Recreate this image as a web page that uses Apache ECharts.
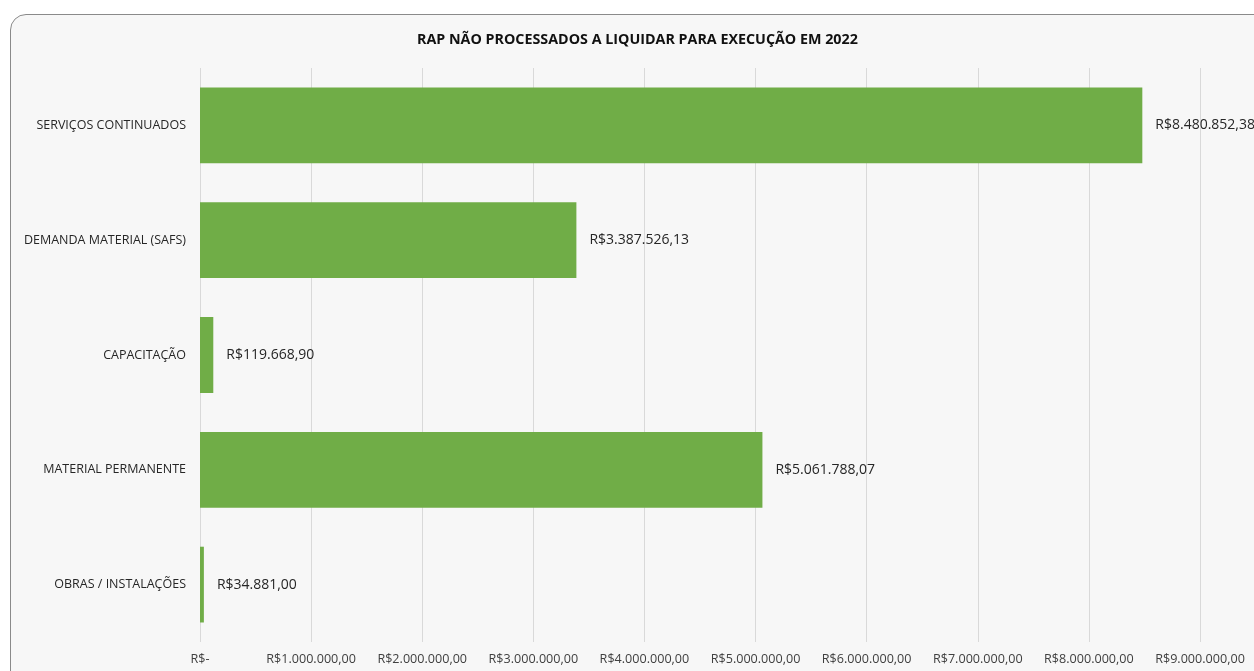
<!DOCTYPE html>
<html><head><meta charset="utf-8">
<script src="https://cdn.jsdelivr.net/npm/echarts@6/dist/echarts.min.js"></script>
<style>
html,body{margin:0;padding:0;background:#fff;width:1254px;height:671px;overflow:hidden;}
#frame{position:absolute;left:10px;top:14px;width:1300px;height:700px;border:1.5px solid #8a8a8a;border-radius:16px;background:#f7f7f7;}
#c{position:absolute;left:0;top:0;width:1254px;height:671px;}
</style></head>
<body><div id="frame"></div><div id="c"></div>
<script>
const categories = ["SERVIÇOS CONTINUADOS","DEMANDA MATERIAL (SAFS)","CAPACITAÇÃO","MATERIAL PERMANENTE","OBRAS / INSTALAÇÕES"];
const values = [8480852.38, 3387526.13, 119668.90, 5061788.07, 34881.00];
const tickLabels = ["R$-","R$1.000.000,00","R$2.000.000,00","R$3.000.000,00","R$4.000.000,00","R$5.000.000,00","R$6.000.000,00","R$7.000.000,00","R$8.000.000,00","R$9.000.000,00"];
const title = "RAP NÃO PROCESSADOS A LIQUIDAR PARA EXECUÇÃO EM 2022";

function brl(v){
  const s = v.toFixed(2).split('.');
  return 'R$' + s[0].replace(/\B(?=(\d{3})+(?!\d))/g,'.') + ',' + s[1];
}
const font = "'Open Sans', 'Noto Sans', sans-serif";
const chart = echarts.init(document.getElementById('c'));
chart.setOption({
  backgroundColor: 'transparent',
  animation: false,
  title: {text: title, left: 412, top: 28, textStyle:{fontFamily: font, fontSize: 14.3, fontWeight: 'bold', color:'#111'}},
  grid: {left: 200, right: 54, top: 68, bottom: 29, containLabel: false},
  xAxis: {type:'value', min:0, max:9000000, interval:1000000,
    axisLine:{show:false}, axisTick:{show:false},
    splitLine:{lineStyle:{color:'#d9d9d9', width:1}},
    axisLabel:{margin:11, color:'#404040', fontFamily: font, fontSize: 12.6,
      formatter: v => tickLabels[Math.round(v/1000000)]}
  },
  yAxis: {type:'category', inverse:true, data: categories,
    axisLine:{show:false}, axisTick:{show:false},
    axisLabel:{margin:14, color:'#262626', fontFamily: font, fontSize: 12.5}
  },
  series: [{type:'bar', data: values, barCategoryGap:'34%',
    itemStyle:{color:'#70ad47'},
    label:{show:true, position:'right', distance:13, color:'#262626', fontFamily: font, fontSize: 14,
      formatter: p => brl(p.value)}
  }]
});
</script></body></html>
